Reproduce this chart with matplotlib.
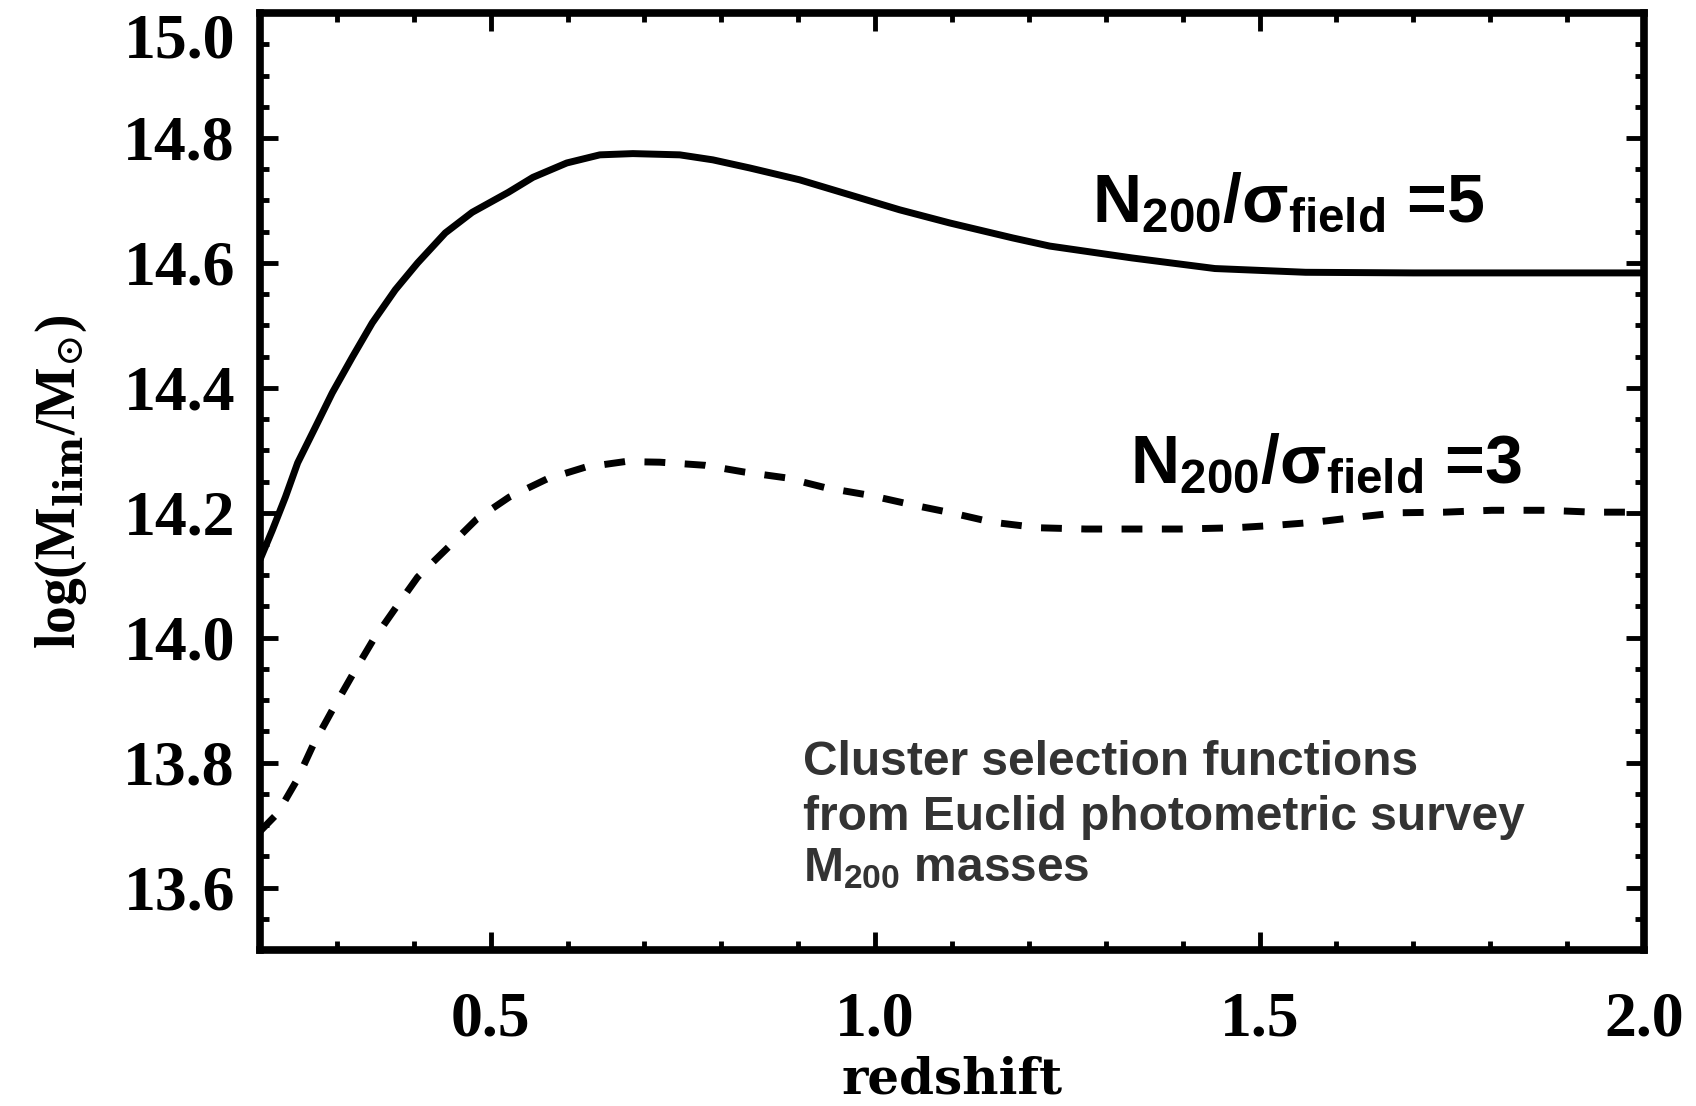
import matplotlib
matplotlib.use('Agg')
import matplotlib.pyplot as plt
from matplotlib.ticker import MultipleLocator

plt.rcParams['mathtext.fontset'] = 'custom'
plt.rcParams['mathtext.rm'] = 'Liberation Sans:bold'
plt.rcParams['mathtext.it'] = 'Liberation Sans:bold'
plt.rcParams['mathtext.bf'] = 'Liberation Sans:bold'
plt.rcParams['mathtext.sf'] = 'Liberation Sans:bold'

# redshift / log(M_lim)
z_n5 = [0.200, 0.216, 0.233, 0.249, 0.272, 0.294, 0.320, 0.346, 0.376, 0.405,
        0.441, 0.476, 0.523, 0.555, 0.599, 0.642, 0.685, 0.746, 0.789, 0.837,
        0.902, 0.967, 1.032, 1.097, 1.179, 1.227, 1.334, 1.442, 1.560, 1.700,
        1.850, 2.000]
m_n5 = [14.125, 14.172, 14.225, 14.280, 14.337, 14.392, 14.449, 14.504, 14.557, 14.600,
        14.648, 14.681, 14.713, 14.737, 14.760, 14.773, 14.775, 14.773, 14.765, 14.752,
        14.733, 14.709, 14.685, 14.664, 14.640, 14.627, 14.608, 14.591, 14.585, 14.584,
        14.584, 14.584]

z_n3 = [0.200, 0.223, 0.248, 0.269, 0.294, 0.320, 0.347, 0.376, 0.405, 0.445,
        0.482, 0.524, 0.573, 0.623, 0.675, 0.720, 0.779, 0.831, 0.884, 0.936,
        0.993, 1.051, 1.099, 1.152, 1.213, 1.274, 1.337, 1.398, 1.468, 1.521,
        1.573, 1.627, 1.679, 1.741, 1.802, 1.873, 1.934, 2.000]
m_n3 = [13.690, 13.719, 13.772, 13.828, 13.884, 13.940, 13.996, 14.047, 14.097, 14.145,
        14.190, 14.225, 14.254, 14.273, 14.282, 14.281, 14.276, 14.265, 14.256, 14.240,
        14.228, 14.212, 14.200, 14.185, 14.176, 14.174, 14.174, 14.174, 14.176, 14.180,
        14.185, 14.193, 14.200, 14.201, 14.204, 14.204, 14.201, 14.201]

xticks = [0.5, 1.0, 1.5, 2.0]
yticks = [13.6, 13.8, 14.0, 14.2, 14.4, 14.6, 14.8, 15.0]

fig = plt.figure(figsize=(16.96, 11.06), dpi=100)
ax = fig.add_axes([0.1533, 0.1410, 0.8160, 0.8472])

ax.plot(z_n5, m_n5, color='black', lw=5.0, solid_capstyle='butt', solid_joinstyle='round')
ax.plot(z_n3, m_n3, color='black', lw=5.0, dashes=(3.0, 2.8))

ax.set_xlim(0.2, 2.0)
ax.set_ylim(13.5, 15.0)

for s in ax.spines.values():
    s.set_linewidth(5.5)

ax.set_xticks(xticks)
ax.set_yticks(yticks)
ax.xaxis.set_minor_locator(MultipleLocator(0.1))
ax.yaxis.set_minor_locator(MultipleLocator(0.05))
ax.tick_params(which='both', direction='in', top=True, right=True, width=3.5)
ax.tick_params(which='major', length=13)
ax.tick_params(which='minor', length=6.5)
ax.tick_params(axis='y', pad=18)
ax.tick_params(axis='x', pad=30)

tick_font = dict(family='Liberation Serif', weight='bold', size=46)
ax.set_xticklabels(['%.1f' % v for v in xticks], fontdict=tick_font)
ax.set_yticklabels(['%.1f' % v for v in yticks], fontdict=tick_font)
ax.get_yticklabels()[-1].set_va('top')

ax.set_xlabel('redshift', family='DejaVu Serif', weight='bold', size=36)
ax.xaxis.label.set_va('baseline')
ax.xaxis.set_label_coords(0.5, -0.1526)
ax.set_ylabel(r'log(M$_{\mathbf{lim}}$/M$_{\odot}$)', family='Liberation Serif',
              weight='bold', size=40, math_fontfamily='dejavuserif')
ax.yaxis.set_label_coords(-0.1236, 0.5)

lab = dict(family='Liberation Sans', weight='bold', size=49, color='black',
           va='baseline', ha='left', math_fontfamily='custom')
ax.text(1.282, 14.665, r'N$_{200}$/$\sigma_{\mathrm{field}}$ =5', **lab)
ax.text(1.332, 14.248, r'N$_{200}$/$\sigma_{\mathrm{field}}$ =3', **lab)

note = dict(family='Liberation Sans', weight='bold',
            size=34.5, color='#333333', va='baseline', ha='left', math_fontfamily='custom')
ax.text(0.906, 13.780, 'Cluster selection functions', **note)
ax.text(0.906, 13.692, 'from Euclid photometric survey', **note)
ax.text(0.906, 13.610, r'M$_{200}$ masses', **note)

fig.savefig('out.png', dpi=100, facecolor='white')
